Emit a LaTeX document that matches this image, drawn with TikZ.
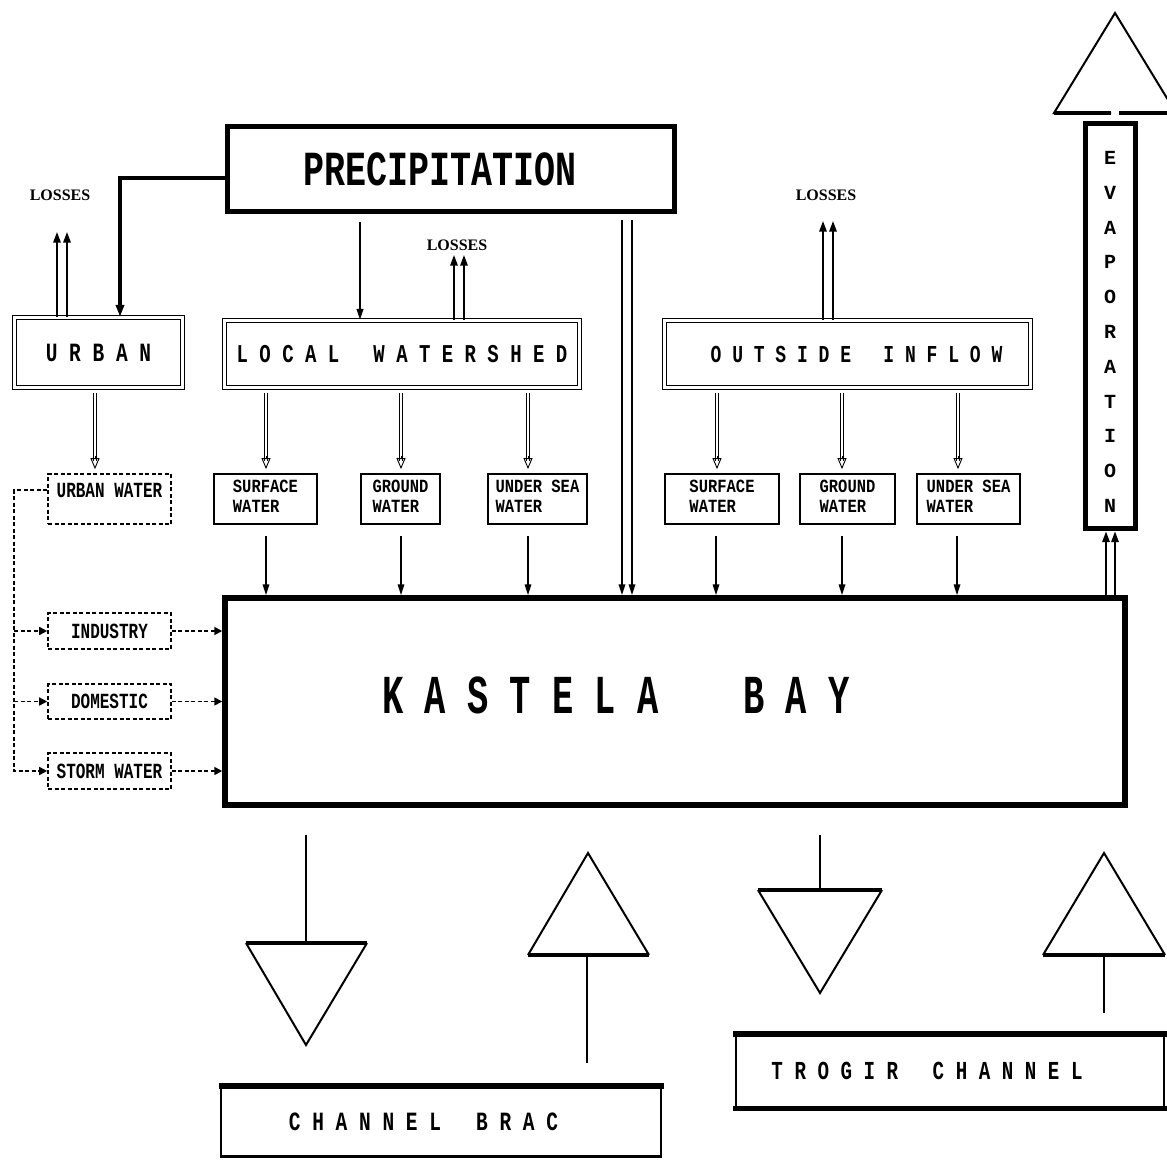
\documentclass[tikz,border=0pt]{standalone}
\usepackage{fontspec}
\usepackage{graphicx}
\usetikzlibrary{arrows.meta,calc}
\newfontfamily\tw{Liberation Mono}
\newfontfamily\lsf{Liberation Serif}
\newcommand\tall[2][1.35]{\scalebox{1}[#1]{#2}}
\newcommand\twoline[2]{\tall[1.2]{\begin{tabular}{@{}l@{}}#1\\[2pt]#2\end{tabular}}}
\newcommand\hollowarr[2]{%
  \draw[line width=0.9pt,double distance=2.8pt,shorten <=5pt,shorten >=12pt] (#1) -- (#2);
  \draw[line width=0.9pt,-{Triangle[open,length=11pt,width=9pt]},shorten >=4pt] ($(#2)+(0,-17)$) -- (#2);}
\begin{document}
\begin{tikzpicture}[x=1pt,y=-1pt,
  thickbox/.style={draw, line width=5pt, inner sep=0pt},
  dblbox/.style={draw, double, line width=1.1pt, double distance=2.6pt, inner sep=0pt},
  smallbox/.style={draw, line width=1.8pt, inner sep=0pt, minimum height=50, font=\fontsize{15.5}{14}\tw\bfseries},
  dashbox/.style={draw, line width=1.6pt, dash pattern=on 4pt off 2.5pt, inner sep=0pt, font=\fontsize{16}{12}\tw\bfseries},
  arr/.style={line width=1.6pt, -{Triangle[length=11pt,width=6.5pt]}},
  uparr/.style={line width=2.6pt, -{Triangle[length=11pt,width=7pt]}},
  dasharr/.style={line width=1.6pt, dash pattern=on 4pt off 2.5pt, -{Triangle[length=8pt,width=8pt]}},
  lossesnode/.style={font=\fontsize{16}{16}\lsf\bfseries, inner sep=2pt},
  triedge/.style={line width=2pt, line join=miter},
  tribase/.style={line width=4pt},
  stem/.style={line width=2.8pt},
]
\useasboundingbox (0,0) rectangle (1167,1159);

% main boxes
\node[thickbox, minimum width=447, minimum height=85, font=\fontsize{35}{35}\tw\bfseries] (prec) at (451,169) {\tall[1.4]{PRECIPITATION}\hspace*{21pt}};
\node[dblbox, minimum width=168, minimum height=70, font=\fontsize{19.5}{19.5}\tw\bfseries] (urban) at (98.5,352.5) {\tall{U~R~B~A~N}};
\node[dblbox, minimum width=355, minimum height=67, font=\fontsize{19}{19}\tw\bfseries] (lw) at (402,354) {\tall{L~O~C~A~L~~~W~A~T~E~R~S~H~E~D}};
\node[dblbox, minimum width=366, minimum height=67, font=\fontsize{18}{18}\tw\bfseries] (oi) at (847.5,354) {\hspace*{18pt}\tall{O~U~T~S~I~D~E~~~I~N~F~L~O~W}};
\node[thickbox, minimum width=50, minimum height=405] (evap) at (1110,326) {};
\node[align=center, font=\fontsize{20}{34.8}\tw\bfseries, inner sep=0pt] (evapt) at (1110,332) {E\\V\\A\\P\\O\\R\\A\\T\\I\\O\\N};
\node[thickbox, line width=5.5pt, minimum width=900, minimum height=207] (kb) at (675,701.5) {};
\node[font=\fontsize{35.4}{35.4}\tw\bfseries, inner sep=0pt] (kbt) at (616,695) {\tall[1.55]{K~A~S~T~E~L~A~~~~B~A~Y}};

% small boxes
\node[smallbox, minimum width=103] (sw1) at (265.5,499) {\twoline{SURFACE}{WATER}};
\node[smallbox, minimum width=79] (gw1) at (400.5,499) {\twoline{GROUND}{WATER}};
\node[smallbox, minimum width=99] (us1) at (537.5,499) {\twoline{UNDER SEA}{WATER}};
\node[smallbox, minimum width=114] (sw2) at (722,499) {\twoline{SURFACE}{WATER}};
\node[smallbox, minimum width=95] (gw2) at (847.5,499) {\twoline{GROUND}{WATER}};
\node[smallbox, minimum width=103] (us2) at (968.5,499) {\twoline{UNDER SEA}{WATER}};

% dashed boxes
\node[dashbox, minimum width=123, minimum height=50, text depth=17pt] (uw) at (109.5,499) {\tall{URBAN WATER}};
\node[dashbox, minimum width=123, minimum height=36] (ind) at (109.5,631) {\tall{INDUSTRY}};
\node[dashbox, minimum width=123, minimum height=35] (dom) at (109.5,701.5) {\tall{DOMESTIC}};
\node[dashbox, minimum width=123, minimum height=36] (storm) at (109.5,771) {\tall{STORM WATER}};

% losses labels
\node[lossesnode] (l1) at (60,195) {LOSSES};
\node[lossesnode] (l2) at (457,245) {LOSSES};
\node[lossesnode] (l3) at (826,195) {LOSSES};

% precipitation connections
\draw[line width=3.5pt, -{Triangle[length=12pt,width=8pt]}] ([yshift=-9pt]prec.west) -| ([xshift=21.5pt]urban.north);
\draw[arr, line width=2.2pt, shorten <=8pt] ([xshift=-91pt]prec.south) -- ([xshift=-42pt]lw.north);
\draw[arr, line width=2pt, shorten <=6pt] ([xshift=171pt]prec.south) -- ([xshift=-53pt]kb.north);
\draw[arr, line width=2pt, shorten <=6pt] ([xshift=181pt]prec.south) -- ([xshift=-43pt]kb.north);

% losses arrows
\draw[uparr, shorten >=29pt] ([xshift=-41.5pt]urban.north) -- ([xshift=-3pt]l1.south);
\draw[uparr, shorten >=29pt] ([xshift=-31.5pt]urban.north) -- ([xshift=7pt]l1.south);
\draw[uparr, shorten >=2pt] ([xshift=52pt]lw.north) -- ([xshift=-3pt]l2.south);
\draw[uparr, shorten >=2pt] ([xshift=62pt]lw.north) -- ([xshift=7pt]l2.south);
\draw[uparr, shorten >=18pt] ([xshift=-24.5pt]oi.north) -- ([xshift=-3pt]l3.south);
\draw[uparr, shorten >=18pt] ([xshift=-14.5pt]oi.north) -- ([xshift=7pt]l3.south);

% evaporation
\draw[uparr] ([xshift=431pt]kb.north) -- ([xshift=-4pt]evap.south);
\draw[uparr] ([xshift=440pt]kb.north) -- ([xshift=5pt]evap.south);
\draw[triedge] (1111,113) -- (1054,113) -- (1115,13) -- (1176,113) -- (1119,113);
\draw[tribase] (1054,113) -- (1111,113) (1119,113) -- (1170,113);

% hollow arrows
\hollowarr{[xshift=-3.5pt]urban.south}{[xshift=-14.5pt]uw.north}
\hollowarr{[xshift=-136pt]lw.south}{[xshift=0.5pt]sw1.north}
\hollowarr{[xshift=-1pt]lw.south}{[xshift=0.5pt]gw1.north}
\hollowarr{[xshift=126pt]lw.south}{[xshift=-9.5pt]us1.north}
\hollowarr{[xshift=-130.5pt]oi.south}{[xshift=-5pt]sw2.north}
\hollowarr{[xshift=-5.5pt]oi.south}{[xshift=-5.5pt]gw2.north}
\hollowarr{[xshift=110.5pt]oi.south}{[xshift=-10.5pt]us2.north}

% small boxes to bay
\draw[arr, shorten <=11pt] ([xshift=0.5pt]sw1.south) -- ([xshift=-409pt]kb.north);
\draw[arr, shorten <=11pt] ([xshift=0.5pt]gw1.south) -- ([xshift=-274pt]kb.north);
\draw[arr, shorten <=11pt] ([xshift=-9.5pt]us1.south) -- ([xshift=-147pt]kb.north);
\draw[arr, shorten <=11pt] ([xshift=-6pt]sw2.south) -- ([xshift=41pt]kb.north);
\draw[arr, shorten <=11pt] ([xshift=-5.5pt]gw2.south) -- ([xshift=167pt]kb.north);
\draw[arr, shorten <=11pt] ([xshift=-11.5pt]us2.south) -- ([xshift=282pt]kb.north);

% dashed urban water distribution
\draw[dasharr] ([yshift=9pt]uw.west) -- ++(-33,0) |- (storm.west);
\draw[dasharr] ([xshift=-33pt]ind.west) -- (ind.west);
\draw[dasharr] ([xshift=-33pt]dom.west) -- (dom.west);
\draw[dasharr] (ind.east) -- (ind.east -| kb.west);
\draw[dasharr] (dom.east) -- (dom.east -| kb.west);
\draw[dasharr] (storm.east) -- (storm.east -| kb.west);

% outlets
\node[draw, line width=2.5pt, minimum width=440, minimum height=69, inner sep=0pt, font=\fontsize{19.5}{19.5}\tw\bfseries] (cb) at (441,1122) {\tall{C~H~A~N~N~E~L~~~B~R~A~C}\hspace*{35pt}};
\draw[line width=6pt] ([xshift=-1.25pt]cb.north west) -- ([xshift=1.25pt]cb.north east);
\node[draw, line width=2.8pt, minimum width=428, minimum height=72, inner sep=0pt, font=\fontsize{19.2}{19.2}\tw\bfseries] (tc) at (950,1071) {\tall{T~R~O~G~I~R~~~C~H~A~N~N~E~L}\hspace*{46pt}};
\draw[line width=6pt] ([xshift=-1.4pt]tc.north west) -- ([xshift=1.4pt]tc.north east);
\draw[line width=5pt] ([xshift=-1.4pt]tc.south west) -- ([xshift=1.4pt]tc.south east);

% Channel Brac exchange
\draw[stem] ([xshift=-369pt,yshift=-27pt]kb.south) -- (306,943);
\draw[triedge] (246,943) -- (306,1045) -- (367,943);
\draw[tribase] (246,943) -- (367,943);
\draw[triedge] (528,955) -- (588,853) -- (649,955);
\draw[tribase] (528,955) -- (649,955);
\draw[stem, shorten >=23pt] (587,955) -- (cb.north -| 587,0);

% Trogir exchange
\draw[stem] ([xshift=145pt,yshift=-27pt]kb.south) -- (820,890);
\draw[triedge] (758,890) -- (820,993) -- (882,890);
\draw[tribase] (758,890) -- (882,890);
\draw[triedge] (1043,955) -- (1104,853) -- (1165,955);
\draw[tribase] (1043,955) -- (1165,955);
\draw[stem, shorten >=21pt] (1104,955) -- (tc.north -| 1104,0);
\end{tikzpicture}
\end{document}
